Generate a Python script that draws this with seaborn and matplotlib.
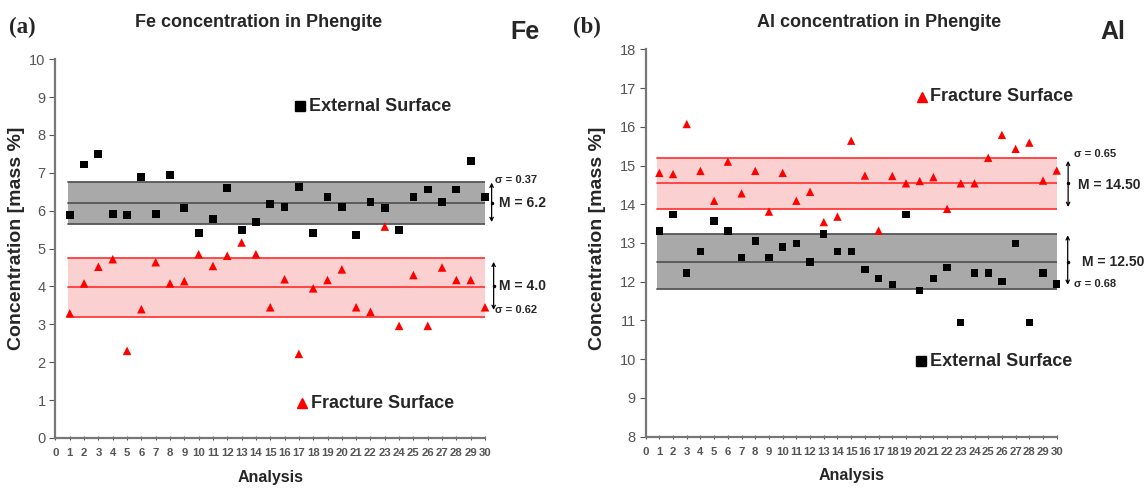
import numpy as np
import pandas as pd
import matplotlib
matplotlib.use("Agg")
import matplotlib.pyplot as plt
import seaborn as sns

sns.set_style("white")
plt.rcParams['font.family'] = ['Liberation Sans', 'DejaVu Sans']

analysis = list(range(1, 31))

# Fe (mass %)
fe_external = [5.88, 7.22, 7.49, 5.91, 5.88, 6.90, 5.91, 6.95, 6.07, 5.42,
               5.77, 6.59, 5.48, 5.70, 6.17, 6.10, 6.63, 5.42, 6.37, 6.10,
               5.36, 6.24, 6.06, 5.48, 6.37, 6.56, 6.24, 6.56, 7.32, 6.37]
fe_fracture = [3.29, 4.08, 4.52, 4.72, 2.30, 3.40, 4.64, 4.08, 4.14, 4.85,
               4.54, 4.81, 5.16, 4.85, 3.45, 4.19, 2.22, 3.95, 4.17, 4.45,
               3.45, 3.33, 5.58, 2.96, 4.30, 2.96, 4.50, 4.17, 4.17, 3.45]
fe_ext_band = (5.64, 6.21, 6.77)
fe_fra_band = (3.20, 3.98, 4.76)

# Al (mass %)
al_external = [13.31, 13.74, 12.23, 12.78, 13.57, 13.31, 12.63, 13.05, 12.63, 12.90,
               12.99, 12.51, 13.23, 12.78, 12.78, 12.32, 12.09, 11.93, 13.74, 11.77,
               12.09, 12.37, 10.95, 12.23, 12.23, 12.00, 12.99, 10.95, 12.23, 11.94]
al_fracture = [14.81, 14.78, 16.07, 14.86, 14.09, 15.10, 14.28, 14.86, 13.81, 14.81,
               14.09, 14.32, 13.54, 13.68, 15.64, 14.74, 13.32, 14.73, 14.54, 14.60,
               14.70, 13.88, 14.54, 14.54, 15.20, 15.79, 15.43, 15.59, 14.61, 14.87]
al_ext_band = (11.81, 12.50, 13.23)
al_fra_band = (13.89, 14.54, 15.20)

GRAY_FILL = "#a9a9a9"
GRAY_LINE = "#555555"
RED_FILL = "#fbd0d0"
RED_LINE = "#ff3b3b"
TICK_COL = "#555555"


def draw_band(ax, band, fill, line):
    lo, mid, hi = band
    ax.fill_between([0.85, 30], lo, hi, color=fill, zorder=1, lw=0)
    for v in band:
        ax.plot([0.85, 30], [v, v], color=line, lw=1.3, zorder=2)


def bracket(ax, x, y0, y1, ymid):
    ax.annotate("", xy=(x, y0), xytext=(x, y1), annotation_clip=False,
                arrowprops=dict(arrowstyle="<->", color="black", lw=0.9,
                                mutation_scale=6, shrinkA=0, shrinkB=0))
    ax.plot([x], [ymid], marker=".", color="black", ms=3, clip_on=False)


def style_axes(ax, ymin, ymax, label_x, label_y):
    ax.set_xlim(0, 30)
    ax.set_ylim(ymin, ymax)
    ax.set_xticks(range(0, 31))
    ax.set_yticks(range(ymin, ymax + 1))
    ax.tick_params(axis="x", labelsize=8.2, colors=TICK_COL, length=3,
                   direction="inout", pad=6)
    ax.tick_params(axis="y", labelsize=10.5, colors=TICK_COL, length=4,
                   direction="out", left=True, pad=3)
    ax.tick_params(axis="x", bottom=True)
    for lab in ax.get_xticklabels():
        lab.set_fontweight("bold")
    for side in ["top", "right"]:
        ax.spines[side].set_visible(False)
    for side in ["left", "bottom"]:
        ax.spines[side].set_color("#777777")
        ax.spines[side].set_linewidth(1.6)
    ax.set_xlabel("Analysis", fontsize=11.5, fontweight="bold", labelpad=8)
    ax.set_ylabel("Concentration [mass %]", fontsize=14, fontweight="bold")
    ax.yaxis.set_label_coords(label_x, label_y)


fig = plt.figure(figsize=(11.48, 4.92), dpi=100)
ax1 = fig.add_axes([0.0483, 0.1098, 0.3742, 0.770])
ax2 = fig.add_axes([0.5624, 0.1124, 0.3581, 0.7874])

fe = pd.DataFrame({"Analysis": analysis, "External": fe_external,
                   "Fracture": fe_fracture})
al = pd.DataFrame({"Analysis": analysis, "External": al_external,
                   "Fracture": al_fracture})

# (a) Fe
draw_band(ax1, fe_ext_band, GRAY_FILL, GRAY_LINE)
draw_band(ax1, fe_fra_band, RED_FILL, RED_LINE)
sns.scatterplot(data=fe, x="Analysis", y="External", ax=ax1, marker="s",
                color="black", s=32, edgecolor="none", zorder=4, clip_on=False)
sns.scatterplot(data=fe, x="Analysis", y="Fracture", ax=ax1, marker="^",
                color="red", s=38, edgecolor="none", zorder=4, clip_on=False)
style_axes(ax1, 0, 10, -0.071, 0.526)

bracket(ax1, 30.46, fe_ext_band[2] - 0.03, fe_ext_band[0] + 0.06, fe_ext_band[1])
ax1.text(30.7, 6.8, "σ = 0.37", fontsize=8, fontweight="bold", va="center")
ax1.text(31.0, 6.2, "M = 6.2", fontsize=10, fontweight="bold", va="center")
bracket(ax1, 30.6, 4.65, 3.38, 4.0)
ax1.text(31.0, 4.0, "M = 4.0", fontsize=10, fontweight="bold", va="center")
ax1.text(30.7, 3.38, "σ = 0.62", fontsize=8, fontweight="bold", va="center")

ax1.plot([17.06], [8.76], marker="s", color="black", ms=6.5, clip_on=False)
ax1.text(17.7, 8.76, "External Surface", fontsize=13, fontweight="bold",
         va="center")
ax1.plot([17.2], [0.92], marker="^", color="red", ms=7, clip_on=False)
ax1.text(17.85, 0.92, "Fracture Surface", fontsize=13, fontweight="bold",
         va="center")

# (b) Al
draw_band(ax2, al_ext_band, GRAY_FILL, GRAY_LINE)
draw_band(ax2, al_fra_band, RED_FILL, RED_LINE)
sns.scatterplot(data=al, x="Analysis", y="External", ax=ax2, marker="s",
                color="black", s=28, edgecolor="none", zorder=4, clip_on=False)
sns.scatterplot(data=al, x="Analysis", y="Fracture", ax=ax2, marker="^",
                color="red", s=36, edgecolor="none", zorder=4, clip_on=False)
style_axes(ax2, 8, 18, -0.096, 0.513)

bracket(ax2, 30.83, 15.12, 13.93, 14.54)
ax2.text(31.25, 15.3, "σ = 0.65", fontsize=8, fontweight="bold", va="center")
ax2.text(31.55, 14.5, "M = 14.50", fontsize=10, fontweight="bold", va="center")
bracket(ax2, 30.8, 13.2, 11.92, 12.5)
ax2.text(31.85, 12.5, "M = 12.50", fontsize=10, fontweight="bold", va="center")
ax2.text(31.25, 11.94, "σ = 0.68", fontsize=8, fontweight="bold", va="center")

ax2.plot([20.17], [16.77], marker="^", color="red", ms=7, clip_on=False)
ax2.text(20.75, 16.77, "Fracture Surface", fontsize=13, fontweight="bold",
         va="center")
ax2.plot([20.1], [9.95], marker="s", color="black", ms=6.5, clip_on=False)
ax2.text(20.75, 9.95, "External Surface", fontsize=13, fontweight="bold",
         va="center")

# titles and panel labels
fig.text(0.2256, 0.955, "Fe concentration in Phengite", fontsize=13,
         fontweight="bold", ha="center", va="center")
fig.text(0.766, 0.955, "Al concentration in Phengite", fontsize=13,
         fontweight="bold", ha="center", va="center")
fig.text(0.008, 0.945, "(a)", fontsize=16.5, fontweight="bold",
         family="Liberation Serif", va="center")
fig.text(0.499, 0.945, "(b)", fontsize=16.5, fontweight="bold",
         family="Liberation Serif", va="center")
fig.text(0.457, 0.934, "Fe", fontsize=18, fontweight="bold", ha="center",
         va="center")
fig.text(0.9695, 0.934, "Al", fontsize=18, fontweight="bold", ha="center",
         va="center")

fig.savefig("out.png", dpi=100)
